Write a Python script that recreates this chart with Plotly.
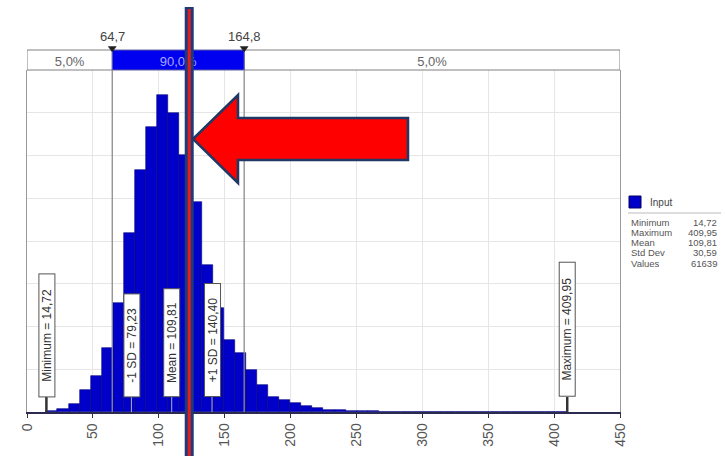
import numpy as np
import plotly.graph_objects as go

# ---------------- data ----------------
minimum = 14.72
maximum = 409.95
mean = 109.81
std_dev = 30.59
p5 = 64.7
p95 = 164.8
n_bins = 47
# percent of values in each bin
bin_pct = [0.03, 0.12, 0.32, 0.87, 1.43, 2.55, 4.34, 7.12, 9.62, 11.34,
           12.61, 11.90, 10.22, 8.35, 5.85, 4.13, 2.86, 2.35, 1.67, 1.07,
           0.60, 0.48, 0.36, 0.24, 0.15, 0.09, 0.08, 0.04, 0.03, 0.05,
           0.02, 0.01, 0.01, 0.01, 0.01, 0.01, 0.01, 0.01, 0.01, 0.01,
           0.01, 0.01, 0.01, 0.01, 0.01, 0.01, 0.02]
x_ticks = [0, 50, 100, 150, 200, 250, 300, 350, 400, 450]
strip_labels = ["5,0%", "90,0%", "5,0%"]
cut_labels = ["64,7", "164,8"]
marker_labels = ["Minimum = 14,72", "-1 SD = 79,23", "Mean = 109,81",
                 "+1 SD = 140,40", "Maximum = 409,95"]
marker_values = [14.72, 79.23, 109.81, 140.40, 409.95]
stat_names = ["Minimum", "Maximum", "Mean", "Std Dev", "Values"]
stat_values = ["14,72", "409,95", "109,81", "30,59", "61639"]
legend_name = "Input"
highlight_value = 123.1

# ---------------- geometry helpers ----------------
W, H = 725, 456
L, R, T, B = 27, 620, 70, 412


def px(xp):
    return (xp - L) / (R - L)


def py(yp):
    return (B - yp) / (B - T)


edges = np.linspace(minimum, maximum, n_bins + 1)
centers = (edges[:-1] + edges[1:]) / 2
bw = edges[1] - edges[0]

FONT = "Liberation Sans, Arial, sans-serif"

fig = go.Figure()
fig.add_trace(go.Bar(
    x=centers, y=bin_pct, width=bw,
    marker=dict(color="#0000C8", line=dict(color="#00007A", width=0.6)),
    showlegend=False, hoverinfo="skip"))

shapes = []
annotations = []

# ---- percentile strip ----
ytop = py(50)
shapes.append(dict(type="rect", xref="x", yref="paper", x0=0, x1=p5, y0=1, y1=ytop,
                   fillcolor="white", line=dict(color="#808080", width=1),
                   label=dict(text=strip_labels[0], font=dict(size=13, color="#666", family=FONT))))
shapes.append(dict(type="rect", xref="x", yref="paper", x0=p95, x1=450, y0=1, y1=ytop,
                   fillcolor="white", line=dict(color="#808080", width=1),
                   label=dict(text=strip_labels[2], font=dict(size=13, color="#666", family=FONT))))
shapes.append(dict(type="rect", xref="x", yref="paper", x0=p5, x1=p95, y0=1, y1=ytop,
                   fillcolor="#0000F0", line=dict(color="#6060a0", width=1),
                   label=dict(text=strip_labels[1], font=dict(size=13, color="#a8a8ff", family=FONT))))

# cut lines
for v in (p5, p95):
    shapes.append(dict(type="line", xref="x", yref="paper", x0=v, x1=v, y0=0, y1=1,
                       line=dict(color="#8c8c8c", width=1.3)))
# triangles + labels
for v, lab in zip((p5, p95), cut_labels):
    xc = L + (v - 0) / 450 * (R - L)
    path = "M {} {} L {} {} L {} {} Z".format(px(xc - 4), py(46.5), px(xc + 4), py(46.5), px(xc), py(52))
    shapes.append(dict(type="path", xref="paper", yref="paper", path=path,
                       fillcolor="#222", line=dict(color="#222", width=0.5)))
    annotations.append(dict(x=v, xref="x", y=py(36), yref="paper", xanchor="center", yanchor="middle",
                            text=lab, showarrow=False,
                            font=dict(size=13, color="#444", family=FONT)))

# ---- marker boxes ----
box_widths = [120, 100, 105, 110, 131]
for v, lab, bwid in zip(marker_values, marker_labels, box_widths):
    dark = lab.startswith("Minimum") or lab.startswith("Maximum")
    shapes.append(dict(type="line", xref="x", yref="paper", x0=v, x1=v, y0=0, y1=py(397),
                       line=dict(color="#333" if dark else "#b0b0b0", width=2.5 if dark else 1)))
    annotations.append(dict(x=v, xref="x", y=py(397), yref="paper", xanchor="center", yanchor="bottom",
                            text=lab, textangle=-90, showarrow=False, width=bwid, height=13,
                            bgcolor="white", bordercolor="#555", borderwidth=1, borderpad=1,
                            font=dict(size=12, color="#333", family=FONT)))

# ---- legend / stats box ----
shapes.append(dict(type="rect", xref="paper", yref="paper", x0=px(629), x1=px(641),
                   y0=py(208), y1=py(196), fillcolor="#0000C8", line=dict(color="#00006a", width=1)))
annotations.append(dict(x=px(648), xref="paper", y=py(202), yref="paper", xanchor="left", yanchor="middle",
                        text=legend_name, showarrow=False, font=dict(size=10, color="#444", family=FONT)))
shapes.append(dict(type="line", xref="paper", yref="paper", x0=px(628), x1=px(721),
                   y0=py(213), y1=py(213), line=dict(color="#bbbbbb", width=1)))
stat_y = [222, 232, 242, 252, 263]
for name, val, yy in zip(stat_names, stat_values, stat_y):
    annotations.append(dict(x=px(629), xref="paper", y=py(yy), yref="paper", xanchor="left", yanchor="middle",
                            text=name, showarrow=False, font=dict(size=9.5, color="#555", family=FONT)))
    annotations.append(dict(x=px(719), xref="paper", y=py(yy), yref="paper", xanchor="right", yanchor="middle",
                            text=val, showarrow=False, font=dict(size=9.5, color="#555", family=FONT)))

# ---- highlight overlay: vertical line + arrow ----
xh = highlight_value
shapes.append(dict(type="line", xref="x", yref="paper", x0=xh, x1=xh, y0=py(460), y1=py(7),
                   line=dict(color="#1F3A78", width=9)))
shapes.append(dict(type="line", xref="x", yref="paper", x0=xh, x1=xh, y0=py(460), y1=py(9),
                   line=dict(color="#E01E1E", width=3)))
arrow_pts = [(193, 139), (238, 95), (238, 118), (408, 118), (408, 160), (238, 160), (238, 183)]
path = "M " + " L ".join("{} {}".format(px(a), py(b)) for a, b in arrow_pts) + " Z"
shapes.append(dict(type="path", xref="paper", yref="paper", path=path,
                   fillcolor="#FF0000", line=dict(color="#1F3864", width=2.5)))

fig.update_layout(
    width=W, height=H,
    margin=dict(l=L, r=W - R, t=T, b=H - B, autoexpand=False),
    paper_bgcolor="white", plot_bgcolor="white",
    font=dict(family=FONT),
    bargap=0,
    shapes=shapes, annotations=annotations,
    xaxis=dict(range=[0, 450], tickvals=x_ticks, ticktext=[str(t) for t in x_ticks],
               tickangle=-90, ticks="outside", ticklen=4, tickcolor="#333",
               tickfont=dict(size=14, color="#555", family=FONT),
               showline=True, linecolor="#2b2b50", linewidth=1.5,
               showgrid=True, gridcolor="#e6e6e6", zeroline=False, automargin=False,
               fixedrange=True),
    yaxis=dict(range=[0, 13.6], dtick=1.7, showticklabels=False, ticks="",
               showgrid=True, gridcolor="#e6e6e6", zeroline=False,
               showline=True, linecolor="#9a9a9a", mirror=True, automargin=False,
               fixedrange=True),
)

fig.write_html("out.html", config={"displayModeBar": False},
               post_script="document.body.style.margin='0';document.body.style.overflow='hidden';")
